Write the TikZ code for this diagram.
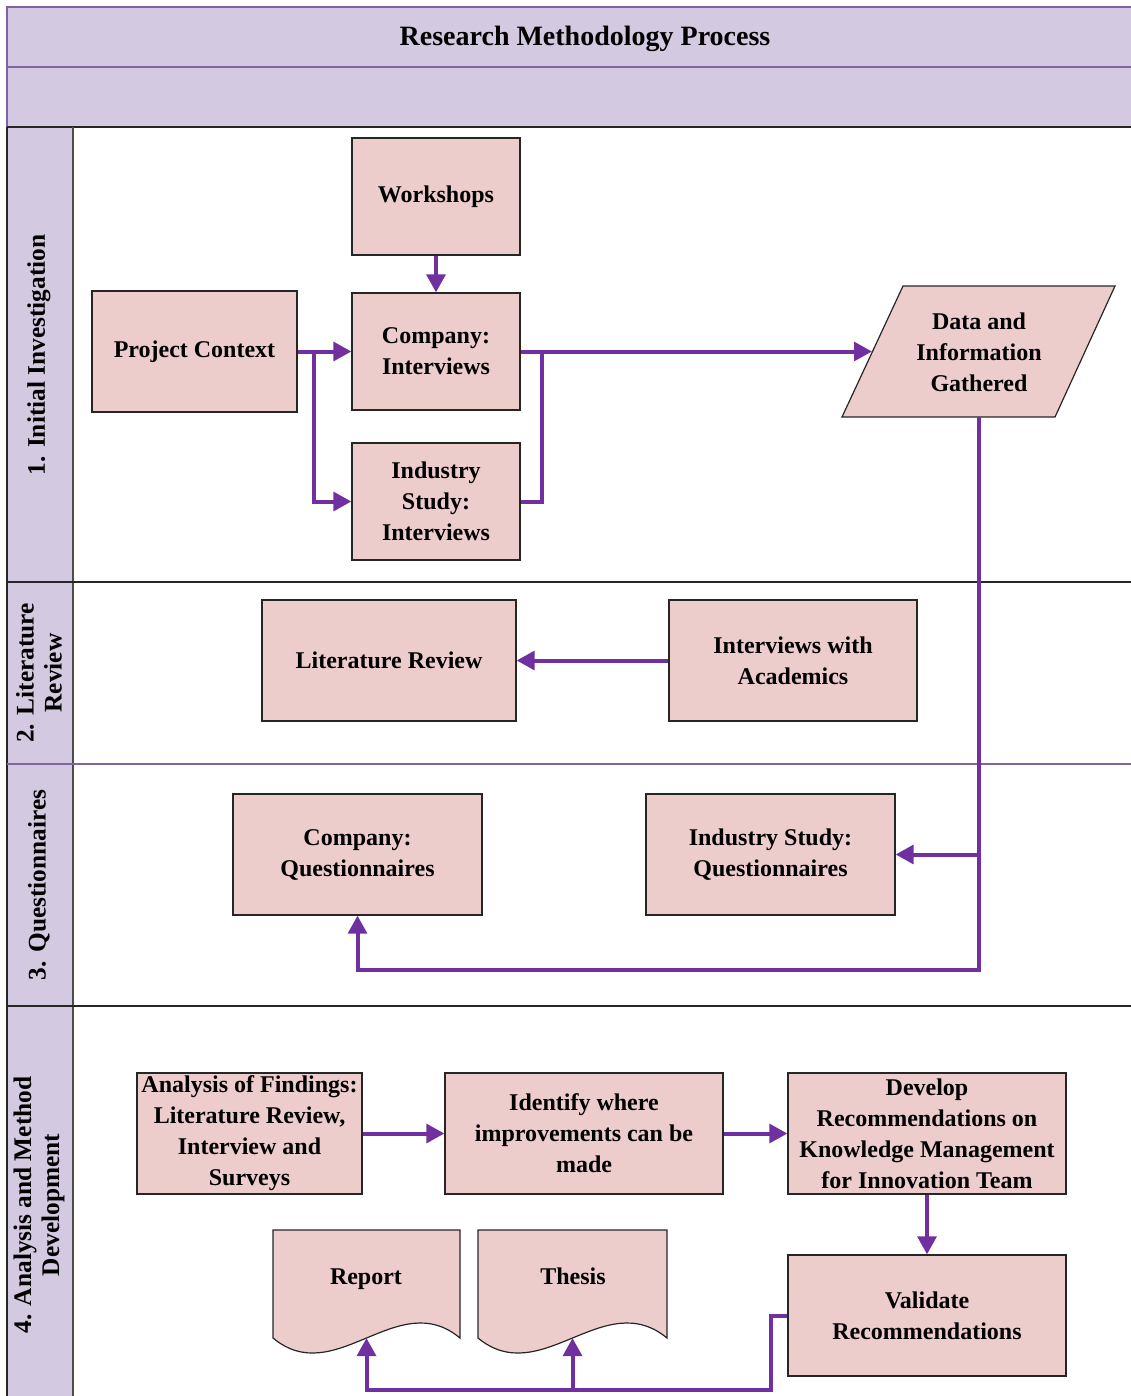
\documentclass[tikz,border=0pt]{standalone}
\usepackage{fontspec}
\setmainfont{Liberation Serif}
\usetikzlibrary{arrows.meta,calc}
\definecolor{lanefill}{RGB}{211,201,224}
\definecolor{lanerule}{RGB}{128,100,162}
\definecolor{boxfill}{RGB}{236,205,204}
\definecolor{flow}{RGB}{112,48,160}
\begin{document}
\begin{tikzpicture}[x=0.75pt,y=-0.75pt,
  boxfont/.style={font=\fontsize{18}{23.25}\selectfont\bfseries},
  box/.style={draw=black!85, line width=0.9pt, fill=boxfill, inner sep=0pt, align=center, boxfont},
  narrow/.style={minimum width=126pt, minimum height=87.75pt},
  shapeline/.style={draw=black!85, line width=0.9pt, fill=boxfill},
  txt/.style={inner sep=0pt, align=center, boxfont},
  lanelabel/.style={rotate=90, align=center, inner sep=0pt, font=\fontsize{19}{21}\selectfont\bfseries},
  conn/.style={draw=flow, line width=3pt},
  arr/.style={conn, -{Triangle[length=13.5pt,width=14pt]}},
]
\useasboundingbox (0,0) rectangle (1131,1396);

% ---- pool header and lane frame ----
\fill[lanefill] (7,7) rectangle (1140,127);
\draw[lanerule, line width=1.1pt] (1140,7) -- (7,7) -- (7,127);
\draw[lanerule, line width=1.1pt] (7,67) -- (1140,67);
\fill[lanefill] (7,127) rectangle (73,1410);
\draw[black!85, line width=1.5pt] (7,127) -- (1140,127);
\draw[black!85, line width=1.2pt] (7,127) -- (7,1410);
\draw[black!70, line width=1pt] (73,127) -- (73,1410);
\draw[black!85, line width=1.5pt] (7,582) -- (1140,582);
\draw[lanerule, line width=1.1pt] (7,764) -- (1140,764);
\draw[black!85, line width=1.5pt] (7,1006) -- (1140,1006);

\node[font=\fontsize{21}{24}\selectfont\bfseries] (title) at (585,39) {Research Methodology Process};

\node[lanelabel] (lab1) at (39,355) {1. Initial Investigation};
\node[lanelabel] (lab2) at (39,673) {2. Literature\\Review};
\node[lanelabel] (lab3) at (39,885) {3. Questionnaires};
\node[lanelabel] (lab4) at (39,1205) {4. Analysis and Method\\Development};

% ---- lane 1 ----
\node[box, narrow] (ws) at (436,196.5) {Workshops};
\node[box, minimum width=153.75pt, minimum height=90.75pt] (pc) at (194.5,351.5) {Project Context};
\node[box, narrow] (ci) at (436,351.5) {Company:\\Interviews};
\node[box, narrow] (isi) at (436,501.5) {Industry\\Study:\\Interviews};

\filldraw[shapeline] (842,417) -- (903,286) -- (1115,286) -- (1055,417) -- cycle;
\node[txt] (data) at (979,352) {Data and\\Information\\Gathered};
\coordinate (dataL) at (872,351.5);
\coordinate (dataB) at (979,417);

% ---- lane 2 ----
\node[box, minimum width=190.5pt, minimum height=90.75pt] (lr) at (389,660.5) {Literature Review};
\node[box, minimum width=186pt, minimum height=90.75pt] (ia) at (793,660.5) {Interviews with\\Academics};

% ---- lane 3 ----
\node[box, minimum width=186.75pt, minimum height=90.75pt] (cq) at (357.5,854.5) {Company:\\Questionnaires};
\node[box, minimum width=186.75pt, minimum height=90.75pt] (iq) at (770.5,854.5) {Industry Study:\\Questionnaires};

% ---- lane 4 ----
\node[box, minimum width=168.75pt, minimum height=90.75pt] (an) at (249.5,1133.5) {Analysis of Findings:\\Literature Review,\\Interview and\\Surveys};
\node[box, minimum width=208.5pt, minimum height=90.75pt] (id) at (584,1133.5) {Identify where\\improvements can be\\made};
\node[box, minimum width=208.5pt, minimum height=90.75pt] (dev) at (927,1133.5) {Develop\\Recommendations on\\Knowledge Management\\for Innovation Team};
\node[box, minimum width=208.5pt, minimum height=90.75pt] (val) at (927,1315.5) {Validate\\Recommendations};

% document shapes with wavy bottom edge
\filldraw[shapeline] (273,1230) -- (460,1230) -- (460,1338)
  .. controls (397.7,1286) and (335.3,1390) .. (273,1338) -- cycle;
\node[txt] (rep) at (366,1279) {Report};
\coordinate (repB) at (366.5,1338);
\filldraw[shapeline] (478,1230) -- (667,1230) -- (667,1338)
  .. controls (604,1286) and (541,1390) .. (478,1338) -- cycle;
\node[txt] (th) at (573,1276) {Thesis};
\coordinate (thB) at (572.5,1338);

% ---- connectors ----
\draw[arr] (ws.south) -- (ci.north);
\draw[arr] (pc.east) -- (ci.west);
\draw[arr] ($(pc.east)+(16,0)$) |- (isi.west);
\draw[arr] (ci.east) -- (dataL);
\draw[conn] (isi.east) -| ($(ci.east)+(21,0)$);

\coordinate (dcorner) at (979,970);
\draw[arr] (dataB) -- (dcorner) -| (cq.south);
\draw[arr] (dataB |- iq.east) -- (iq.east);

\draw[arr] (ia.west) -- (lr.east);

\draw[arr] (an.east) -- (id.west);
\draw[arr] (id.east) -- (dev.west);
\draw[arr] (dev.south) -- (val.north);

\coordinate (vcorner) at (771,1390);
\draw[arr] (val.west) -| (vcorner) -| (repB);
\draw[arr] (thB |- vcorner) -- (thB);
\end{tikzpicture}
\end{document}
